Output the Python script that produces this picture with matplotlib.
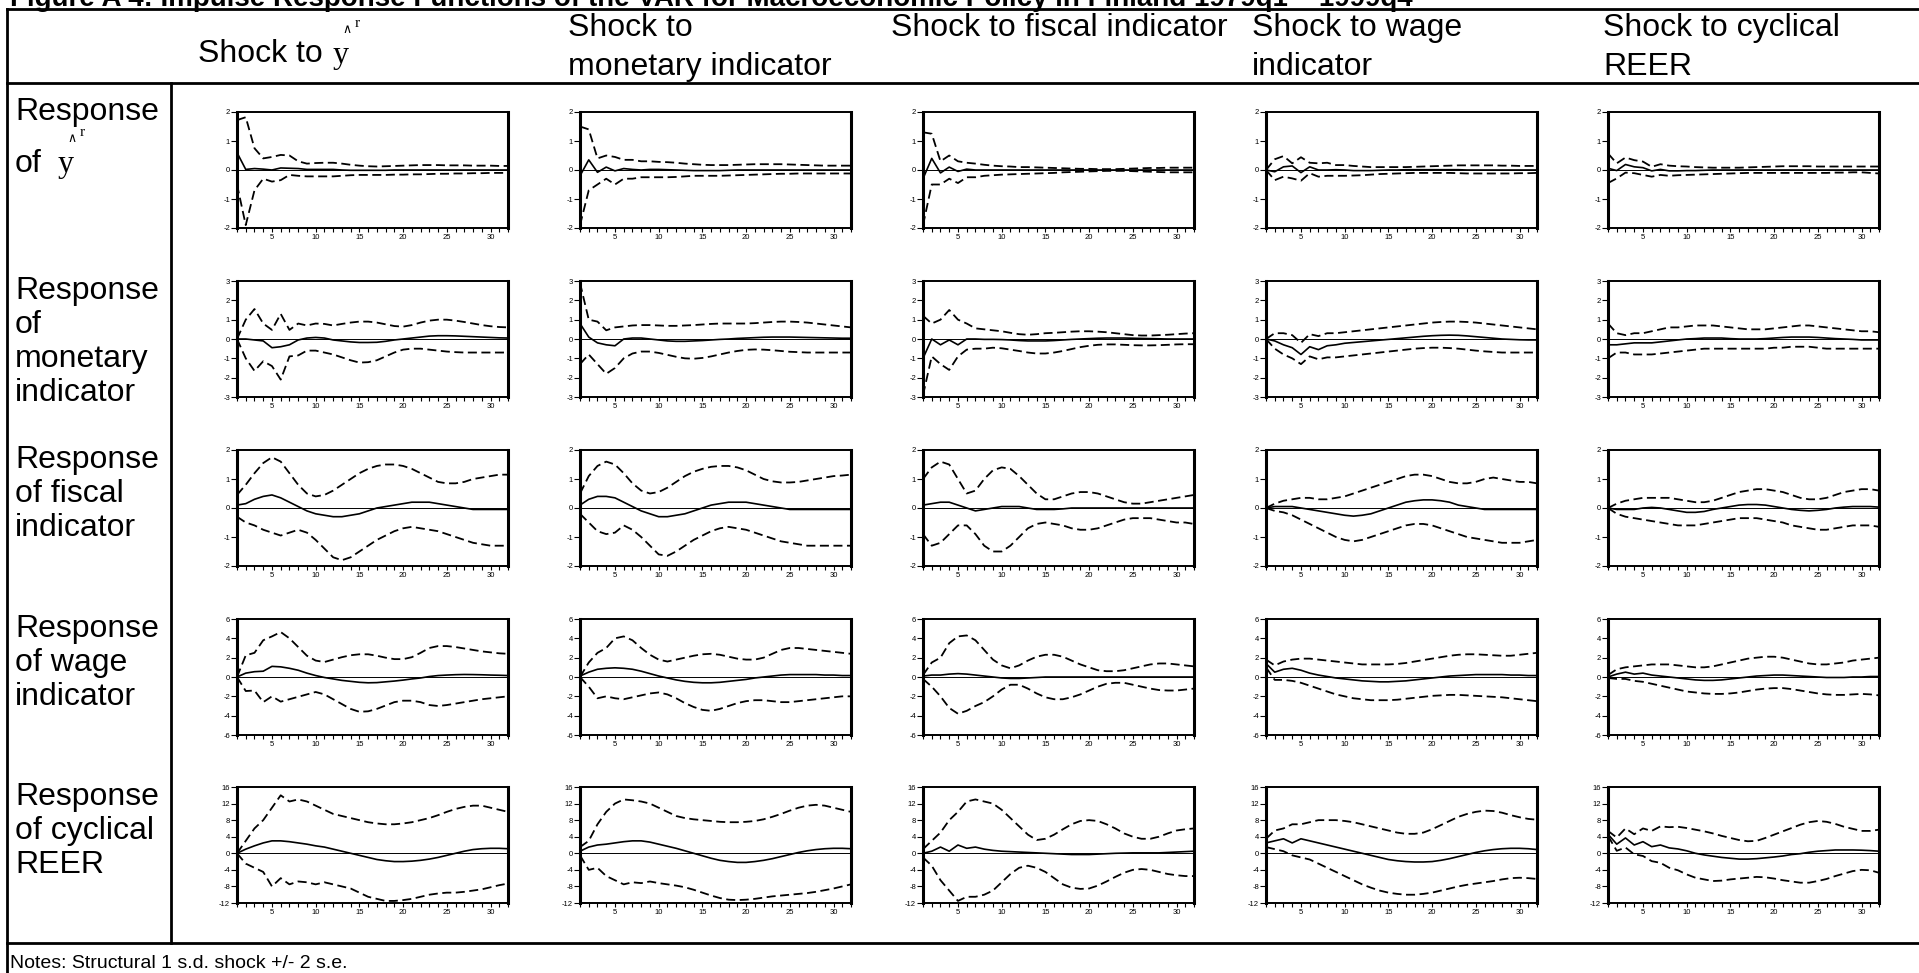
import numpy as np
import matplotlib
matplotlib.use("Agg")
import matplotlib.pyplot as plt
from matplotlib.lines import Line2D

plt.rcParams['font.family'] = ['Liberation Sans', 'DejaVu Sans']
plt.rcParams['axes.unicode_minus'] = False

W, H = 1919, 973

# ---- data: impulse responses (mid) with +/- 2 s.e. bands (up / lo), periods 1..32 ----
# row 1: response of y^r
y_y_mid = [0.6, 0.02, 0.05, 0.03, 0.0, 0.07, 0.06, 0.05, 0.02, 0.02, 0.02, 0.02, 0.0, -0.01, -0.01, -0.01,
           -0.01, -0.01, 0.0, 0.0, 0.0, 0.0, 0.0, 0.0, 0.0, 0.0, 0.0, 0.0, 0.0, 0.0, 0.0, 0.0]
y_y_up = [1.72, 1.82, 0.75, 0.4, 0.45, 0.52, 0.5, 0.3, 0.22, 0.24, 0.25, 0.25, 0.22, 0.18, 0.15, 0.13,
          0.12, 0.13, 0.14, 0.15, 0.16, 0.17, 0.17, 0.17, 0.16, 0.16, 0.16, 0.15, 0.15, 0.15, 0.14, 0.14]
y_y_lo = [-0.5, -1.9, -0.7, -0.3, -0.4, -0.35, -0.17, -0.2, -0.22, -0.22, -0.22, -0.22, -0.2, -0.18, -0.17, -0.17,
          -0.17, -0.17, -0.16, -0.16, -0.15, -0.15, -0.14, -0.13, -0.13, -0.12, -0.12, -0.11, -0.11, -0.1, -0.1, -0.1]

y_mon_mid = [-0.2, 0.35, -0.08, 0.1, -0.03, 0.05, 0.02, 0.0, 0.02, 0.02, 0.01, 0.0, -0.01, -0.02, -0.02, -0.02,
             -0.02, -0.01, 0.0, 0.0, 0.0, 0.0, 0.0, 0.0, 0.0, 0.0, 0.0, 0.0, 0.0, 0.0, 0.0, 0.0]
y_mon_up = [1.5, 1.4, 0.4, 0.5, 0.45, 0.35, 0.35, 0.3, 0.3, 0.28, 0.27, 0.25, 0.22, 0.2, 0.18, 0.17,
            0.17, 0.17, 0.18, 0.19, 0.2, 0.2, 0.2, 0.2, 0.19, 0.18, 0.17, 0.16, 0.15, 0.15, 0.15, 0.15]
y_mon_lo = [-1.9, -0.7, -0.5, -0.3, -0.5, -0.3, -0.3, -0.25, -0.25, -0.25, -0.25, -0.24, -0.22, -0.2, -0.2, -0.2,
            -0.2, -0.19, -0.18, -0.17, -0.16, -0.15, -0.14, -0.13, -0.13, -0.12, -0.12, -0.12, -0.12, -0.12, -0.12, -0.12]

y_fis_mid = [-0.3, 0.4, -0.1, 0.1, -0.05, 0.03, 0.0, 0.0, 0.0, 0.0, 0.0, 0.0, 0.0, 0.0, 0.0, 0.0,
             0.0, 0.0, 0.0, 0.0, 0.0, 0.0, 0.0, 0.0, 0.0, 0.0, 0.0, 0.0, 0.0, 0.0, 0.0, 0.0]
y_fis_up = [1.3, 1.25, 0.3, 0.5, 0.3, 0.25, 0.22, 0.18, 0.15, 0.13, 0.12, 0.1, 0.1, 0.09, 0.08, 0.07,
            0.06, 0.05, 0.04, 0.04, 0.03, 0.03, 0.03, 0.04, 0.05, 0.06, 0.07, 0.07, 0.08, 0.08, 0.08, 0.08]
y_fis_lo = [-1.9, -0.5, -0.5, -0.3, -0.45, -0.25, -0.25, -0.2, -0.18, -0.16, -0.15, -0.14, -0.13, -0.12, -0.11, -0.1,
            -0.08, -0.07, -0.06, -0.05, -0.04, -0.03, -0.03, -0.03, -0.04, -0.05, -0.06, -0.07, -0.08, -0.08, -0.08, -0.08]

y_wage_mid = [0.0, -0.06, 0.11, 0.14, -0.09, 0.11, 0.0, 0.0, 0.01, 0.0, -0.02, -0.02, -0.02, -0.01, 0.0, 0.0,
              0.01, 0.01, 0.01, 0.01, 0.01, 0.01, 0.01, 0.0, 0.0, 0.0, 0.0, 0.0, 0.0, 0.0, 0.0, 0.0]
y_wage_up = [0.0, 0.37, 0.48, 0.23, 0.44, 0.25, 0.23, 0.25, 0.17, 0.17, 0.14, 0.12, 0.1, 0.1, 0.1, 0.1,
             0.1, 0.11, 0.12, 0.13, 0.14, 0.15, 0.16, 0.16, 0.16, 0.16, 0.16, 0.15, 0.15, 0.14, 0.14, 0.14]
y_wage_lo = [0.0, -0.35, -0.23, -0.29, -0.37, -0.11, -0.23, -0.2, -0.2, -0.2, -0.19, -0.18, -0.16, -0.14, -0.13, -0.12,
             -0.11, -0.1, -0.1, -0.1, -0.1, -0.1, -0.11, -0.12, -0.12, -0.12, -0.12, -0.12, -0.12, -0.11, -0.11, -0.1]

y_reer_mid = [0.06, -0.02, 0.19, 0.11, 0.08, -0.03, 0.02, -0.03, -0.03, -0.02, -0.02, -0.01, 0.0, 0.0, 0.0, 0.0,
              0.0, 0.0, 0.0, 0.0, 0.0, 0.0, 0.0, 0.0, 0.0, 0.0, 0.0, 0.0, 0.0, 0.0, 0.0, 0.0]
y_reer_up = [0.57, 0.23, 0.43, 0.34, 0.29, 0.11, 0.2, 0.15, 0.13, 0.12, 0.1, 0.09, 0.08, 0.08, 0.08, 0.08,
             0.09, 0.1, 0.11, 0.12, 0.13, 0.13, 0.13, 0.13, 0.12, 0.12, 0.12, 0.12, 0.12, 0.12, 0.12, 0.12]
y_reer_lo = [-0.45, -0.29, -0.09, -0.11, -0.17, -0.23, -0.17, -0.2, -0.18, -0.17, -0.16, -0.15, -0.14, -0.13, -0.12, -0.11,
             -0.1, -0.1, -0.1, -0.1, -0.1, -0.1, -0.1, -0.1, -0.1, -0.1, -0.09, -0.09, -0.08, -0.08, -0.1, -0.12]

# row 2: response of monetary indicator
mon_y_mid = [0.0, 0.0, -0.05, -0.1, -0.45, -0.4, -0.3, -0.05, 0.05, 0.08, 0.05, -0.05, -0.1, -0.15, -0.18, -0.18,
             -0.17, -0.12, -0.05, 0.0, 0.05, 0.1, 0.15, 0.17, 0.17, 0.16, 0.14, 0.12, 0.1, 0.08, 0.06, 0.05]
mon_y_up = [0.0, 1.0, 1.55, 0.8, 0.47, 1.3, 0.47, 0.8, 0.7, 0.8, 0.78, 0.7, 0.78, 0.85, 0.9, 0.9,
            0.85, 0.76, 0.67, 0.64, 0.72, 0.85, 0.95, 1.0, 1.0, 0.95, 0.88, 0.8, 0.72, 0.66, 0.62, 0.6]
mon_y_lo = [0.0, -1.0, -1.65, -1.15, -1.4, -2.1, -0.9, -0.85, -0.6, -0.6, -0.7, -0.8, -0.95, -1.1, -1.22, -1.2,
            -1.1, -0.9, -0.7, -0.55, -0.5, -0.5, -0.55, -0.6, -0.65, -0.68, -0.7, -0.7, -0.7, -0.7, -0.7, -0.7]

mon_mon_mid = [0.8, 0.1, -0.2, -0.3, -0.35, 0.0, 0.05, 0.05, 0.0, -0.05, -0.1, -0.12, -0.12, -0.1, -0.08, -0.05,
               -0.02, 0.0, 0.03, 0.05, 0.07, 0.09, 0.1, 0.1, 0.1, 0.09, 0.08, 0.07, 0.06, 0.05, 0.04, 0.04]
mon_mon_up = [2.9, 1.0, 0.9, 0.45, 0.6, 0.65, 0.7, 0.72, 0.72, 0.7, 0.68, 0.68, 0.7, 0.72, 0.75, 0.78,
              0.8, 0.8, 0.8, 0.8, 0.82, 0.85, 0.88, 0.9, 0.9, 0.88, 0.85, 0.8, 0.75, 0.7, 0.65, 0.6]
mon_mon_lo = [-1.3, -0.8, -1.3, -1.8, -1.5, -1.0, -0.75, -0.65, -0.65, -0.72, -0.82, -0.92, -1.0, -1.02, -0.98, -0.9,
              -0.8, -0.7, -0.62, -0.56, -0.54, -0.55, -0.58, -0.62, -0.66, -0.68, -0.7, -0.7, -0.7, -0.7, -0.7, -0.7]

mon_fis_mid = [-1.0, 0.0, -0.3, -0.05, -0.3, 0.0, 0.0, -0.02, -0.02, -0.03, -0.05, -0.08, -0.1, -0.1, -0.1, -0.08,
               -0.05, -0.02, 0.0, 0.02, 0.04, 0.05, 0.05, 0.05, 0.04, 0.03, 0.02, 0.01, 0.0, 0.0, 0.0, 0.0]
mon_fis_up = [1.2, 0.8, 1.0, 1.5, 1.0, 0.8, 0.55, 0.5, 0.45, 0.4, 0.32, 0.25, 0.22, 0.25, 0.3, 0.32,
              0.35, 0.38, 0.4, 0.4, 0.38, 0.35, 0.3, 0.25, 0.2, 0.18, 0.18, 0.2, 0.22, 0.25, 0.28, 0.3]
mon_fis_lo = [-2.9, -0.9, -1.3, -1.6, -0.9, -0.55, -0.5, -0.5, -0.45, -0.48, -0.55, -0.62, -0.7, -0.75, -0.75, -0.7,
              -0.62, -0.52, -0.42, -0.35, -0.3, -0.28, -0.28, -0.3, -0.32, -0.33, -0.33, -0.32, -0.3, -0.28, -0.27, -0.27]

mon_wage_mid = [0.0, -0.1, -0.3, -0.45, -0.8, -0.4, -0.55, -0.35, -0.3, -0.22, -0.18, -0.14, -0.1, -0.06, -0.02, 0.02,
                0.06, 0.1, 0.14, 0.17, 0.19, 0.2, 0.19, 0.16, 0.12, 0.08, 0.04, 0.0, -0.02, -0.04, -0.05, -0.05]
mon_wage_up = [0.0, 0.3, 0.3, 0.2, -0.2, 0.25, 0.15, 0.3, 0.3, 0.35, 0.4, 0.45, 0.5, 0.55, 0.6, 0.65,
               0.7, 0.75, 0.8, 0.85, 0.88, 0.9, 0.9, 0.88, 0.85, 0.8, 0.75, 0.7, 0.65, 0.6, 0.55, 0.5]
mon_wage_lo = [0.0, -0.5, -0.8, -1.0, -1.3, -0.9, -1.05, -0.95, -0.95, -0.9, -0.85, -0.8, -0.75, -0.7, -0.65, -0.6,
               -0.55, -0.5, -0.47, -0.45, -0.45, -0.47, -0.5, -0.55, -0.6, -0.64, -0.67, -0.7, -0.7, -0.7, -0.7, -0.7]

mon_reer_mid = [-0.3, -0.3, -0.25, -0.2, -0.2, -0.2, -0.15, -0.1, -0.05, 0.0, 0.02, 0.05, 0.05, 0.05, 0.02, 0.0,
                0.0, 0.0, 0.02, 0.05, 0.08, 0.1, 0.1, 0.1, 0.08, 0.05, 0.02, 0.0, -0.02, -0.05, -0.05, -0.05]
mon_reer_up = [0.8, 0.3, 0.2, 0.3, 0.3, 0.4, 0.5, 0.6, 0.6, 0.65, 0.7, 0.7, 0.7, 0.65, 0.6, 0.55,
               0.5, 0.5, 0.5, 0.55, 0.6, 0.65, 0.7, 0.7, 0.65, 0.6, 0.55, 0.5, 0.45, 0.4, 0.4, 0.35]
mon_reer_lo = [-1.0, -0.7, -0.7, -0.8, -0.8, -0.8, -0.75, -0.7, -0.65, -0.6, -0.55, -0.5, -0.5, -0.5, -0.5, -0.5,
               -0.5, -0.5, -0.5, -0.45, -0.45, -0.4, -0.4, -0.4, -0.45, -0.5, -0.5, -0.5, -0.5, -0.5, -0.5, -0.5]

# row 3: response of fiscal indicator
fis_y_mid = [0.1, 0.15, 0.3, 0.4, 0.45, 0.35, 0.2, 0.05, -0.1, -0.2, -0.25, -0.3, -0.3, -0.25, -0.2, -0.1,
             0.0, 0.05, 0.1, 0.15, 0.2, 0.2, 0.2, 0.15, 0.1, 0.05, 0.0, -0.05, -0.05, -0.05, -0.05, -0.05]
fis_y_up = [0.45, 0.8, 1.2, 1.55, 1.75, 1.6, 1.2, 0.8, 0.5, 0.4, 0.45, 0.6, 0.8, 1.0, 1.2, 1.35,
            1.45, 1.5, 1.5, 1.45, 1.35, 1.2, 1.05, 0.9, 0.85, 0.85, 0.9, 1.0, 1.05, 1.1, 1.15, 1.15]
fis_y_lo = [-0.3, -0.5, -0.6, -0.75, -0.85, -0.95, -0.85, -0.75, -0.85, -1.1, -1.4, -1.7, -1.8, -1.7, -1.5, -1.3,
            -1.1, -0.95, -0.8, -0.7, -0.65, -0.7, -0.75, -0.8, -0.9, -1.0, -1.1, -1.2, -1.25, -1.3, -1.3, -1.3]

fis_mon_mid = [0.1, 0.3, 0.4, 0.4, 0.35, 0.2, 0.05, -0.1, -0.2, -0.3, -0.3, -0.25, -0.2, -0.1, 0.0, 0.1,
               0.15, 0.2, 0.2, 0.2, 0.15, 0.1, 0.05, 0.0, -0.05, -0.05, -0.05, -0.05, -0.05, -0.05, -0.05, -0.05]
fis_mon_up = [0.5, 1.1, 1.45, 1.6, 1.5, 1.2, 0.85, 0.6, 0.5, 0.55, 0.7, 0.9, 1.1, 1.25, 1.35, 1.42,
              1.45, 1.45, 1.4, 1.3, 1.15, 1.0, 0.92, 0.88, 0.88, 0.9, 0.95, 1.0, 1.05, 1.1, 1.12, 1.15]
fis_mon_lo = [-0.2, -0.5, -0.8, -0.9, -0.85, -0.6, -0.75, -1.0, -1.3, -1.6, -1.65, -1.5, -1.3, -1.1, -0.95, -0.8,
              -0.7, -0.65, -0.7, -0.75, -0.85, -0.95, -1.05, -1.15, -1.2, -1.25, -1.3, -1.3, -1.3, -1.3, -1.3, -1.3]

fis_fis_mid = [0.1, 0.15, 0.2, 0.2, 0.1, 0.0, -0.1, -0.05, 0.0, 0.05, 0.05, 0.05, 0.0, -0.05, -0.05, -0.05,
               -0.03, 0.0, 0.0, 0.0, 0.0, 0.0, 0.0, 0.0, 0.0, 0.0, 0.0, 0.0, 0.0, 0.0, 0.0, 0.0]
fis_fis_up = [1.0, 1.4, 1.6, 1.5, 1.0, 0.5, 0.6, 1.0, 1.3, 1.4, 1.35, 1.1, 0.8, 0.5, 0.3, 0.3,
              0.4, 0.5, 0.55, 0.55, 0.5, 0.4, 0.3, 0.2, 0.15, 0.15, 0.2, 0.25, 0.3, 0.35, 0.4, 0.45]
fis_fis_lo = [-0.9, -1.3, -1.2, -0.9, -0.6, -0.6, -0.9, -1.3, -1.5, -1.5, -1.3, -1.0, -0.7, -0.55, -0.5, -0.55,
              -0.6, -0.7, -0.75, -0.75, -0.7, -0.6, -0.5, -0.4, -0.35, -0.35, -0.35, -0.4, -0.45, -0.5, -0.5, -0.55]

fis_wage_mid = [0.0, 0.05, 0.05, 0.05, 0.0, -0.05, -0.1, -0.15, -0.2, -0.25, -0.28, -0.25, -0.2, -0.1, 0.0, 0.1,
                0.2, 0.25, 0.28, 0.28, 0.25, 0.2, 0.1, 0.05, 0.0, -0.05, -0.05, -0.05, -0.05, -0.05, -0.05, -0.05]
fis_wage_up = [0.0, 0.15, 0.25, 0.3, 0.35, 0.35, 0.3, 0.3, 0.35, 0.4, 0.5, 0.6, 0.7, 0.8, 0.9, 1.0,
               1.1, 1.15, 1.15, 1.1, 1.0, 0.9, 0.85, 0.85, 0.9, 1.0, 1.05, 1.0, 0.95, 0.9, 0.9, 0.85]
fis_wage_lo = [0.0, -0.1, -0.15, -0.25, -0.4, -0.55, -0.7, -0.85, -1.0, -1.1, -1.15, -1.1, -1.0, -0.9, -0.8, -0.7,
               -0.6, -0.55, -0.55, -0.6, -0.7, -0.8, -0.9, -1.0, -1.05, -1.1, -1.15, -1.2, -1.2, -1.2, -1.15, -1.1]

fis_reer_mid = [0.0, -0.05, -0.05, -0.05, 0.0, 0.02, 0.0, -0.05, -0.1, -0.15, -0.15, -0.12, -0.05, 0.0, 0.05, 0.1,
                0.12, 0.12, 0.1, 0.05, 0.0, -0.05, -0.08, -0.1, -0.08, -0.05, 0.0, 0.03, 0.05, 0.05, 0.05, 0.03]
fis_reer_up = [0.0, 0.15, 0.25, 0.3, 0.35, 0.35, 0.35, 0.35, 0.3, 0.25, 0.2, 0.2, 0.25, 0.35, 0.45, 0.55,
               0.6, 0.65, 0.65, 0.6, 0.55, 0.45, 0.35, 0.3, 0.3, 0.35, 0.45, 0.55, 0.6, 0.65, 0.65, 0.6]
fis_reer_lo = [0.0, -0.2, -0.3, -0.35, -0.4, -0.45, -0.5, -0.55, -0.6, -0.6, -0.6, -0.55, -0.5, -0.45, -0.4, -0.35,
               -0.35, -0.35, -0.4, -0.45, -0.5, -0.6, -0.65, -0.7, -0.75, -0.75, -0.7, -0.65, -0.6, -0.6, -0.6, -0.65]

# row 4: response of wage indicator
wage_y_mid = [0.0, 0.4, 0.55, 0.6, 1.1, 1.05, 0.9, 0.7, 0.4, 0.15, -0.05, -0.2, -0.35, -0.45, -0.55, -0.6,
              -0.58, -0.5, -0.42, -0.32, -0.2, -0.1, 0.05, 0.15, 0.2, 0.24, 0.26, 0.25, 0.23, 0.2, 0.18, 0.15]
wage_y_up = [0.0, 2.24, 2.5, 3.8, 4.2, 4.65, 4.0, 3.1, 2.2, 1.7, 1.55, 1.8, 2.05, 2.25, 2.35, 2.35,
             2.2, 2.0, 1.85, 1.85, 2.05, 2.5, 3.0, 3.2, 3.2, 3.1, 2.95, 2.8, 2.65, 2.55, 2.45, 2.4]
wage_y_lo = [0.0, -1.45, -1.4, -2.6, -2.0, -2.55, -2.3, -2.05, -1.8, -1.55, -1.8, -2.3, -2.8, -3.3, -3.6, -3.55,
             -3.3, -2.95, -2.6, -2.45, -2.45, -2.6, -2.9, -3.0, -2.9, -2.75, -2.6, -2.45, -2.3, -2.2, -2.1, -2.0]

wage_mon_mid = [0.1, 0.5, 0.8, 0.9, 0.95, 0.9, 0.8, 0.6, 0.35, 0.1, -0.1, -0.3, -0.45, -0.55, -0.6, -0.6,
                -0.55, -0.45, -0.35, -0.25, -0.1, 0.0, 0.1, 0.2, 0.25, 0.25, 0.25, 0.25, 0.2, 0.2, 0.15, 0.15]
wage_mon_up = [0.0, 1.5, 2.5, 3.0, 4.0, 4.2, 3.8, 3.0, 2.3, 1.8, 1.6, 1.8, 2.0, 2.2, 2.35, 2.4,
               2.3, 2.1, 1.9, 1.8, 1.8, 2.0, 2.4, 2.8, 3.0, 3.0, 2.9, 2.8, 2.7, 2.6, 2.5, 2.4]
wage_mon_lo = [0.0, -1.0, -2.2, -2.0, -2.2, -2.3, -2.1, -1.9, -1.7, -1.6, -1.8, -2.2, -2.7, -3.1, -3.4, -3.5,
               -3.3, -3.0, -2.7, -2.5, -2.4, -2.4, -2.5, -2.6, -2.6, -2.5, -2.4, -2.3, -2.2, -2.1, -2.0, -2.0]

wage_fis_mid = [0.1, 0.2, 0.2, 0.3, 0.35, 0.3, 0.2, 0.1, 0.0, -0.1, -0.15, -0.15, -0.1, -0.05, 0.0, 0.0,
                0.0, 0.0, 0.0, 0.0, 0.0, 0.0, 0.0, 0.0, 0.0, 0.0, 0.0, 0.0, 0.0, 0.0, 0.0, 0.0]
wage_fis_up = [0.2, 1.5, 2.0, 3.5, 4.2, 4.3, 3.8, 2.8, 1.8, 1.2, 0.9, 1.2, 1.7, 2.1, 2.3, 2.3,
               2.1, 1.7, 1.3, 1.0, 0.7, 0.6, 0.6, 0.7, 0.9, 1.1, 1.3, 1.4, 1.4, 1.3, 1.2, 1.1]
wage_fis_lo = [-0.2, -1.0, -2.0, -3.2, -3.8, -3.5, -3.0, -2.6, -2.0, -1.3, -0.8, -0.8, -1.2, -1.7, -2.1, -2.3,
               -2.3, -2.1, -1.8, -1.4, -1.0, -0.7, -0.6, -0.6, -0.8, -1.0, -1.2, -1.35, -1.4, -1.4, -1.3, -1.2]

wage_wage_mid = [1.4, 0.5, 0.8, 0.9, 0.7, 0.4, 0.2, 0.05, -0.1, -0.2, -0.3, -0.4, -0.45, -0.5, -0.5, -0.45,
                 -0.4, -0.3, -0.2, -0.1, 0.0, 0.1, 0.15, 0.2, 0.25, 0.25, 0.25, 0.25, 0.2, 0.2, 0.15, 0.15]
wage_wage_up = [1.8, 1.2, 1.6, 1.8, 1.9, 1.9, 1.8, 1.7, 1.6, 1.5, 1.4, 1.3, 1.3, 1.3, 1.3, 1.35,
                1.45, 1.6, 1.75, 1.9, 2.05, 2.2, 2.3, 2.35, 2.35, 2.3, 2.25, 2.2, 2.2, 2.3, 2.4, 2.5]
wage_wage_lo = [1.0, -0.3, -0.3, -0.4, -0.6, -0.9, -1.2, -1.5, -1.8, -2.0, -2.2, -2.3, -2.4, -2.4, -2.4, -2.35,
                -2.25, -2.15, -2.05, -1.95, -1.9, -1.85, -1.85, -1.9, -1.95, -2.0, -2.05, -2.1, -2.2, -2.3, -2.4, -2.5]

wage_reer_mid = [0.0, 0.3, 0.5, 0.3, 0.4, 0.2, 0.1, 0.0, -0.1, -0.2, -0.3, -0.35, -0.35, -0.3, -0.2, -0.1,
                 0.0, 0.1, 0.15, 0.2, 0.2, 0.15, 0.1, 0.05, 0.0, -0.05, -0.05, -0.05, 0.0, 0.0, 0.05, 0.05]
wage_reer_up = [0.2, 0.8, 1.0, 1.1, 1.2, 1.3, 1.3, 1.3, 1.2, 1.1, 1.0, 1.0, 1.1, 1.3, 1.5, 1.7,
                1.9, 2.0, 2.1, 2.1, 2.0, 1.8, 1.6, 1.4, 1.3, 1.3, 1.4, 1.5, 1.7, 1.8, 1.9, 2.0]
wage_reer_lo = [-0.1, -0.2, -0.2, -0.4, -0.5, -0.7, -0.9, -1.1, -1.3, -1.5, -1.6, -1.7, -1.75, -1.75, -1.7, -1.6,
                -1.45, -1.3, -1.2, -1.15, -1.15, -1.25, -1.4, -1.55, -1.7, -1.8, -1.85, -1.85, -1.8, -1.75, -1.8, -1.9]

# row 5: response of cyclical REER
reer_y_mid = [0.0, 1.0, 1.8, 2.5, 3.0, 3.0, 2.8, 2.5, 2.2, 1.8, 1.5, 1.0, 0.5, 0.0, -0.5, -1.0,
              -1.5, -1.8, -2.0, -2.0, -1.9, -1.7, -1.4, -1.0, -0.5, 0.0, 0.5, 0.9, 1.1, 1.2, 1.2, 1.1]
reer_y_up = [0.0, 3.0, 6.0, 8.0, 11.0, 14.0, 12.5, 13.0, 12.5, 11.5, 10.5, 9.5, 9.0, 8.5, 8.0, 7.5,
             7.2, 7.0, 7.0, 7.2, 7.5, 8.0, 8.5, 9.2, 10.0, 10.7, 11.2, 11.5, 11.5, 11.0, 10.5, 10.0]
reer_y_lo = [0.0, -2.5, -3.5, -4.5, -8.0, -6.0, -7.5, -6.8, -7.0, -7.5, -7.0, -7.5, -8.0, -8.5, -9.5, -10.5,
             -11.0, -11.5, -11.5, -11.3, -11.0, -10.5, -10.0, -9.7, -9.5, -9.5, -9.3, -9.0, -8.7, -8.2, -7.7, -7.3]

reer_mon_mid = [0.5, 1.5, 2.0, 2.2, 2.5, 2.8, 3.0, 3.0, 2.7, 2.2, 1.7, 1.2, 0.6, 0.0, -0.6, -1.2,
                -1.7, -2.0, -2.2, -2.2, -2.0, -1.7, -1.3, -0.8, -0.3, 0.2, 0.6, 0.9, 1.1, 1.2, 1.2, 1.1]
reer_mon_up = [1.5, 3.0, 7.0, 10.0, 12.0, 13.0, 12.8, 12.5, 12.0, 11.0, 10.0, 9.0, 8.5, 8.2, 8.0, 7.8,
               7.6, 7.5, 7.5, 7.6, 7.8, 8.2, 8.8, 9.5, 10.3, 11.0, 11.5, 11.7, 11.5, 11.0, 10.5, 10.0]
reer_mon_lo = [-0.5, -4.0, -3.5, -5.5, -6.5, -7.5, -7.0, -7.2, -6.8, -7.2, -7.5, -7.8, -8.2, -8.8, -9.5, -10.2,
               -10.8, -11.2, -11.3, -11.2, -11.0, -10.7, -10.4, -10.2, -10.0, -9.8, -9.6, -9.3, -8.9, -8.5, -8.0, -7.5]

reer_fis_mid = [0.0, 0.5, 1.5, 0.5, 2.0, 1.2, 1.5, 1.0, 0.7, 0.5, 0.4, 0.3, 0.2, 0.1, 0.0, -0.1,
                -0.2, -0.3, -0.3, -0.3, -0.2, -0.1, 0.0, 0.05, 0.1, 0.1, 0.1, 0.1, 0.2, 0.3, 0.4, 0.5]
reer_fis_up = [1.0, 3.0, 5.0, 8.0, 10.0, 12.5, 13.0, 12.5, 12.0, 10.5, 8.5, 6.5, 4.5, 3.2, 3.5, 4.5,
               5.8, 7.0, 7.8, 8.0, 7.8, 7.0, 6.0, 4.8, 4.0, 3.5, 3.5, 4.0, 4.8, 5.5, 5.8, 6.0]
reer_fis_lo = [-1.0, -3.0, -6.5, -9.0, -11.5, -10.5, -10.5, -10.0, -9.0, -7.0, -5.0, -3.5, -3.0, -3.5, -4.5, -6.0,
               -7.5, -8.3, -8.6, -8.5, -7.8, -6.8, -5.7, -4.7, -4.0, -3.8, -4.0, -4.5, -5.0, -5.3, -5.5, -5.5]

reer_wage_mid = [2.5, 3.0, 3.5, 2.5, 3.5, 3.0, 2.5, 2.0, 1.5, 1.0, 0.5, 0.0, -0.5, -1.0, -1.5, -1.8,
                 -2.0, -2.1, -2.1, -2.0, -1.7, -1.3, -0.8, -0.3, 0.2, 0.6, 0.9, 1.1, 1.2, 1.2, 1.1, 0.9]
reer_wage_up = [3.5, 5.5, 6.0, 7.0, 7.0, 7.5, 8.0, 8.0, 8.0, 7.8, 7.5, 7.0, 6.5, 6.0, 5.5, 5.0,
                4.7, 4.7, 5.0, 5.8, 6.8, 7.8, 8.8, 9.5, 10.0, 10.3, 10.2, 9.8, 9.2, 8.7, 8.3, 8.1]
reer_wage_lo = [1.5, 1.0, 0.5, -0.5, -1.0, -1.5, -2.5, -3.5, -4.5, -5.5, -6.5, -7.5, -8.3, -9.0, -9.5, -9.8,
                -10.0, -10.0, -9.8, -9.5, -9.0, -8.5, -8.0, -7.6, -7.3, -7.0, -6.7, -6.3, -6.0, -5.9, -6.0, -6.2]

reer_reer_mid = [4.6, 2.2, 3.7, 2.0, 2.8, 1.6, 2.0, 1.3, 1.05, 0.6, 0.0, -0.4, -0.7, -1.0, -1.2, -1.4,
                 -1.4, -1.3, -1.1, -0.9, -0.65, -0.3, -0.1, 0.25, 0.5, 0.65, 0.8, 0.8, 0.8, 0.75, 0.65, 0.5]
reer_reer_up = [5.4, 3.8, 6.0, 4.6, 6.0, 5.4, 6.5, 6.3, 6.4, 6.1, 5.7, 5.3, 4.8, 4.2, 3.7, 3.2,
                2.9, 3.0, 3.7, 4.5, 5.3, 6.1, 6.9, 7.5, 7.8, 7.6, 7.1, 6.4, 5.9, 5.4, 5.4, 5.7]
reer_reer_lo = [4.2, 0.6, 1.4, -0.25, -0.65, -1.9, -2.3, -3.5, -4.1, -5.1, -5.9, -6.3, -6.7, -6.6, -6.3, -6.1,
                -5.9, -5.7, -5.8, -6.1, -6.5, -6.8, -7.1, -7.1, -6.7, -6.2, -5.5, -4.9, -4.3, -4.0, -4.1, -4.7]

responses = ['y', 'mon', 'fis', 'wage', 'reer']
shocks = ['y', 'mon', 'fis', 'wage', 'reer']
y_limits = [(-2, 2), (-3, 3), (-2, 2), (-6, 6), (-12, 16)]
y_steps = [1, 1, 1, 2, 4]

title = "Figure A 4: Impulse Response Functions of the VAR for Macroeconomic Policy in Finland 1979q1 \u2013 1999q4"
col_headers = [["Shock to"], ["Shock to", "monetary indicator"], ["Shock to fiscal indicator"],
               ["Shock to wage", "indicator"], ["Shock to cyclical", "REER"]]
row_labels = [["Response", "of"], ["Response", "of", "monetary", "indicator"], ["Response", "of fiscal", "indicator"],
              ["Response", "of wage", "indicator"], ["Response", "of cyclical", "REER"]]
notes = "Notes: Structural 1 s.d. shock +/- 2 s.e."

# ---- layout (pixels) ----
col_left = [237, 580, 923, 1266, 1608]
ax_w = 271
row_top = [112, 281, 450, 619, 787]
ax_h = 116


def fx(x):
    return x / W


def fy(y):
    return 1 - y / H


fig = plt.figure(figsize=(W / 100, H / 100), dpi=100)

for i, resp in enumerate(responses):
    for j, shk in enumerate(shocks):
        ax = fig.add_axes([fx(col_left[j]), fy(row_top[i] + ax_h), ax_w / W, ax_h / H])
        mid = globals()[resp + '_' + shk + '_mid']
        up = globals()[resp + '_' + shk + '_up']
        lo = globals()[resp + '_' + shk + '_lo']
        t = np.arange(1, len(mid) + 1)
        ax.axhline(0, color='black', lw=0.7)
        ax.plot(t, up, color='black', lw=1.3, ls=(0, (5, 2.5)))
        ax.plot(t, lo, color='black', lw=1.3, ls=(0, (5, 2.5)))
        ax.plot(t, mid, color='black', lw=1.2)
        ax.set_xlim(1, 32)
        ax.set_ylim(*y_limits[i])
        lo_lim, hi_lim = y_limits[i]
        ax.set_yticks(np.arange(lo_lim, hi_lim + 0.1, y_steps[i]))
        ax.set_xticks([5, 10, 15, 20, 25, 30])
        ax.set_xticks(range(1, 33), minor=True)
        ax.tick_params(axis='x', which='both', direction='out', length=3, width=0.8,
                       labelsize=5.5, pad=1.5)
        ax.tick_params(axis='y', direction='out', length=4, width=0.8, labelsize=5.5, pad=1)
        for side in ['top', 'bottom']:
            ax.spines[side].set_linewidth(1.4)
        for side in ['left', 'right']:
            ax.spines[side].set_linewidth(2.2)

# ---- table frame ----
frame = [((7, 9), (W, 9)), ((7, 9), (7, H)), ((7, 83), (W, 83)),
         ((171, 83), (171, 943)), ((7, 943), (W, 943))]
for (x0, y0), (x1, y1) in frame:
    fig.add_artist(Line2D([fx(x0), fx(x1)], [fy(y0), fy(y1)], color='black', lw=2.0))

fs = 23
fig.text(fx(10), fy(6), title, fontsize=20, fontweight='bold', va='baseline', ha='left')

# column headers
head_x = [198, 568, 891, 1252, 1603]
for j, lines in enumerate(col_headers):
    if j == 0:
        fig.text(fx(head_x[j]), fy(62), lines[0], fontsize=fs, va='baseline')
    else:
        for k, line in enumerate(lines):
            fig.text(fx(head_x[j]), fy(36 + 39 * k), line, fontsize=fs, va='baseline')


def yhat(x, base):
    fig.text(fx(x), fy(base), "y", fontsize=fs, family='Liberation Serif', va='baseline')
    fig.text(fx(x + 9), fy(base - 30), "\u2227", fontsize=9, va='baseline')
    fig.text(fx(x + 22), fy(base - 36), "r", fontsize=11, family='Liberation Serif', va='baseline')


yhat(333, 63)

# row labels
for i, lines in enumerate(row_labels):
    base = row_top[i] + 8 + (10 if i > 0 else 0)
    for k, line in enumerate(lines):
        if i == 0 and k == 1:
            fig.text(fx(15), fy(172), line, fontsize=fs, va='baseline')
        else:
            fig.text(fx(15), fy(base + 34 * k), line, fontsize=fs, va='baseline')
yhat(58, 172)

fig.text(fx(10), fy(968), notes, fontsize=14, va='baseline')

fig.savefig("out.png", dpi=100)
